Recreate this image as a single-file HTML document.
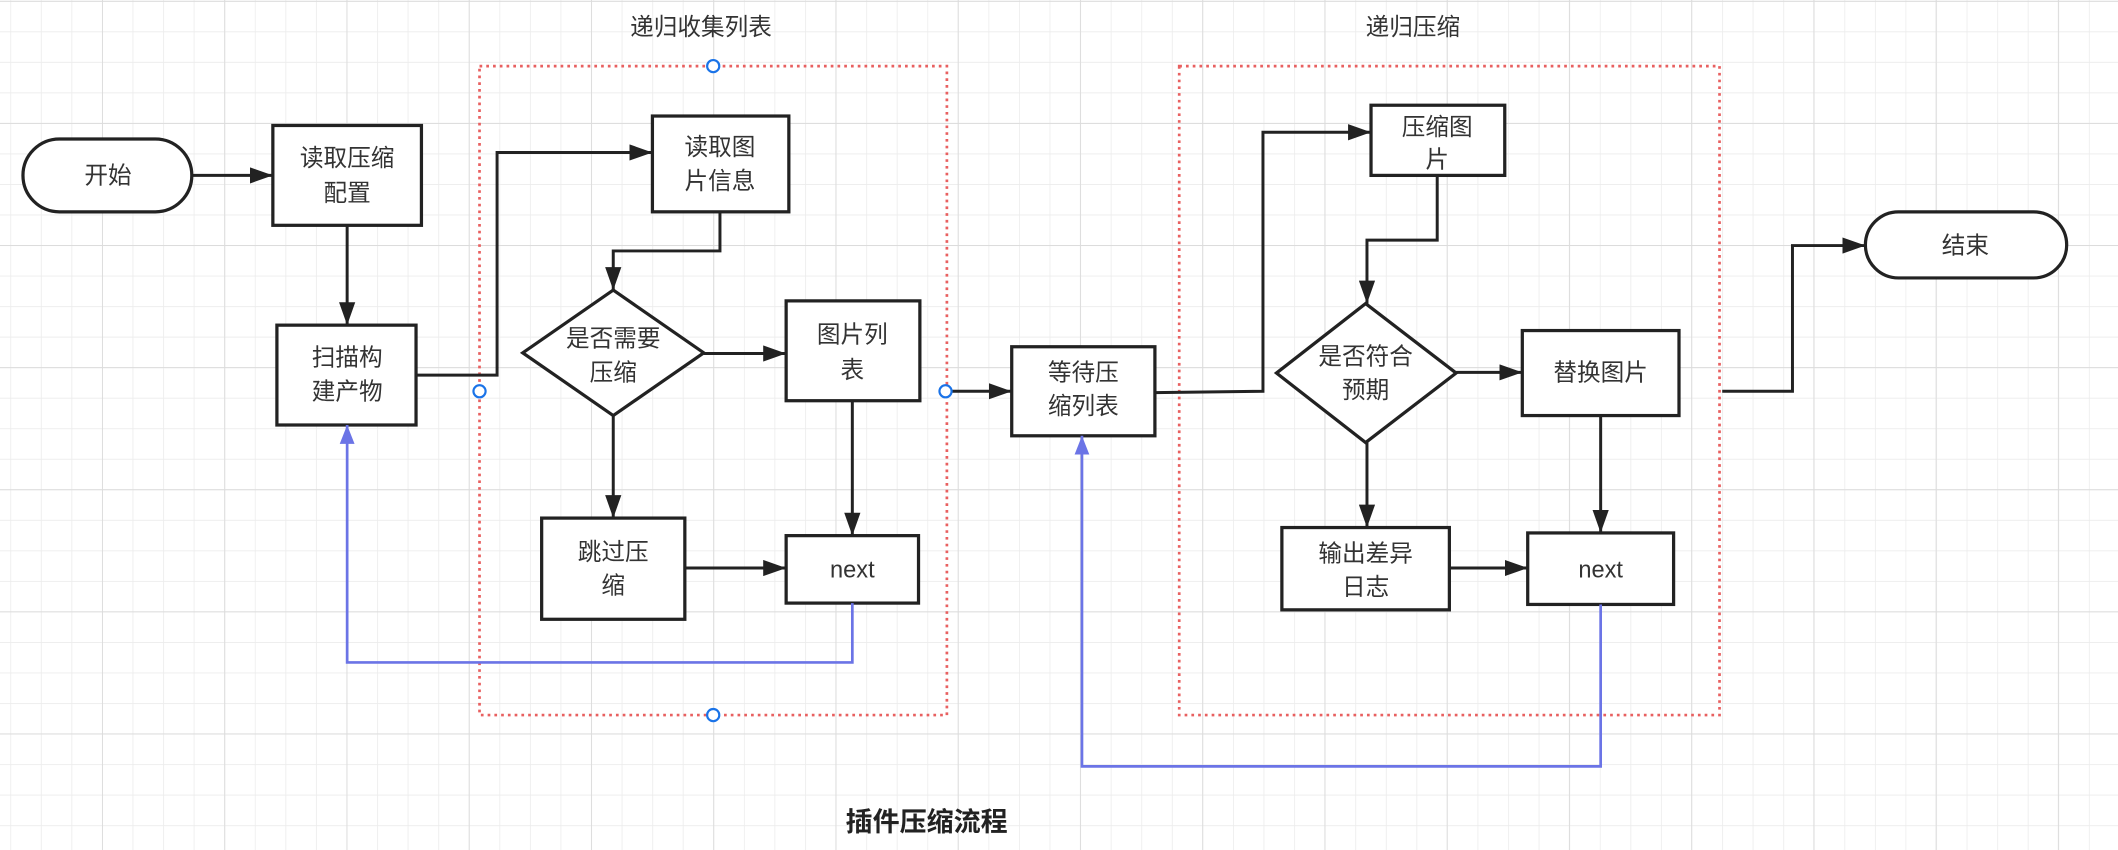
<!DOCTYPE html>
<html><head><meta charset="utf-8"><style>
html,body{margin:0;padding:0;background:#fff;}
svg{display:block;}
text{font-family:"Liberation Sans","Noto Sans CJK SC",sans-serif;fill:#333;font-size:17.5px;text-anchor:middle;}
</style></head><body>
<svg width="2118" height="850" viewBox="0 0 1568 630" preserveAspectRatio="none">
<defs>
<pattern id="mi" x="75.5" y="0.6" width="22.63" height="22.63" patternUnits="userSpaceOnUse">
<path d="M0 0H22.63M0 0V22.63" stroke="#ececec" stroke-width="1.2" fill="none"/>
</pattern>
<pattern id="ma" x="75.5" y="0.6" width="90.5" height="90.5" patternUnits="userSpaceOnUse">
<path d="M0 0H90.5M0 0V90.5" stroke="#dcdcdc" stroke-width="1.4" fill="none"/>
</pattern>
<marker id="ar" markerWidth="17" markerHeight="12" refX="17" refY="6" orient="auto" markerUnits="userSpaceOnUse"><path d="M0 0L17 6L0 12Z" fill="#222"/></marker>
<marker id="ab" markerWidth="14" markerHeight="11" refX="14" refY="5.5" orient="auto" markerUnits="userSpaceOnUse"><path d="M0 0L14 5.5L0 11Z" fill="#6b74e6"/></marker>
</defs>
<rect width="1568" height="630" fill="#fff"/>
<rect width="1568" height="630" fill="url(#mi)"/>
<rect width="1568" height="630" fill="url(#ma)"/>

<rect x="355" y="49" width="346" height="481" fill="none" stroke="#e86060" stroke-width="2" stroke-dasharray="2 3"/>
<rect x="873" y="49" width="400" height="481" fill="none" stroke="#e86060" stroke-width="2" stroke-dasharray="2 3"/>
<text x="519" y="26">递归收集列表</text>
<text x="1046" y="26">递归压缩</text>

<g fill="#fff" stroke="#222" stroke-width="2.4">
<rect x="17" y="103" width="125" height="54" rx="27"/>
<rect x="202" y="93" width="110" height="74"/>
<rect x="205" y="241" width="103" height="74"/>
<rect x="483" y="86" width="101" height="71"/>
<path d="M454 215L521 261.5L454 308L387 261.5Z"/>
<rect x="582" y="223" width="99" height="74"/>
<rect x="582" y="397" width="98" height="50"/>
<rect x="401" y="384" width="106" height="75"/>
<rect x="749" y="257" width="106" height="66"/>
<rect x="1015" y="78" width="99" height="52"/>
<path d="M1011 225L1078 276.5L1011 328L945 276.5Z"/>
<rect x="1127" y="245" width="116" height="63"/>
<rect x="1131" y="395" width="108" height="53"/>
<rect x="949" y="391" width="124" height="61"/>
<rect x="1381" y="157" width="149" height="49" rx="24.5"/>
</g>

<g fill="none" stroke="#222" stroke-width="2.2" marker-end="url(#ar)">
<path d="M142 130H202"/>
<path d="M257 167V241"/>
<path d="M308 278H368V113H483"/>
<path d="M533 157V186H454V215"/>
<path d="M521 262H582"/>
<path d="M631 297V397"/>
<path d="M454 308V384"/>
<path d="M507 421H582"/>
<path d="M700 290H749"/>
<path d="M855 291L935 290V98H1015"/>
<path d="M1064 130V178H1012V225"/>
<path d="M1078 276H1127"/>
<path d="M1185 308V395"/>
<path d="M1012 328V391"/>
<path d="M1073 421H1131"/>
<path d="M1275 290H1327V182H1381"/>
</g>
<g fill="none" stroke="#6b74e6" stroke-width="2" marker-end="url(#ab)">
<path d="M631 447V491H257V315"/>
<path d="M1185 448V568H801V323"/>
</g>

<g fill="#fff" stroke="#1a73e8" stroke-width="1.6">
<circle cx="528" cy="49" r="4.5"/>
<circle cx="355" cy="290" r="4.5"/>
<circle cx="700" cy="290" r="4.5"/>
<circle cx="528" cy="530" r="4.5"/>
</g>

<text x="80" y="136">开始</text>
<text x="257" y="123">读取压缩</text><text x="257" y="149">配置</text>
<text x="257" y="271">扫描构</text><text x="257" y="296">建产物</text>
<text x="533" y="115">读取图</text><text x="533" y="140">片信息</text>
<text x="454" y="257">是否需要</text><text x="454" y="282">压缩</text>
<text x="631" y="254">图片列</text><text x="631" y="280">表</text>
<text x="631" y="428">next</text>
<text x="454" y="415">跳过压</text><text x="454" y="440">缩</text>
<text x="802" y="282">等待压</text><text x="802" y="307">缩列表</text>
<text x="1064" y="100">压缩图</text><text x="1064" y="124">片</text>
<text x="1011" y="270">是否符合</text><text x="1011" y="295">预期</text>
<text x="1185" y="282">替换图片</text>
<text x="1185" y="428">next</text>
<text x="1011" y="416">输出差异</text><text x="1011" y="441">日志</text>
<text x="1455" y="188">结束</text>
<text x="686" y="616" style="font-size:20px;font-weight:bold;fill:#222">插件压缩流程</text>
</svg>
</body></html>
